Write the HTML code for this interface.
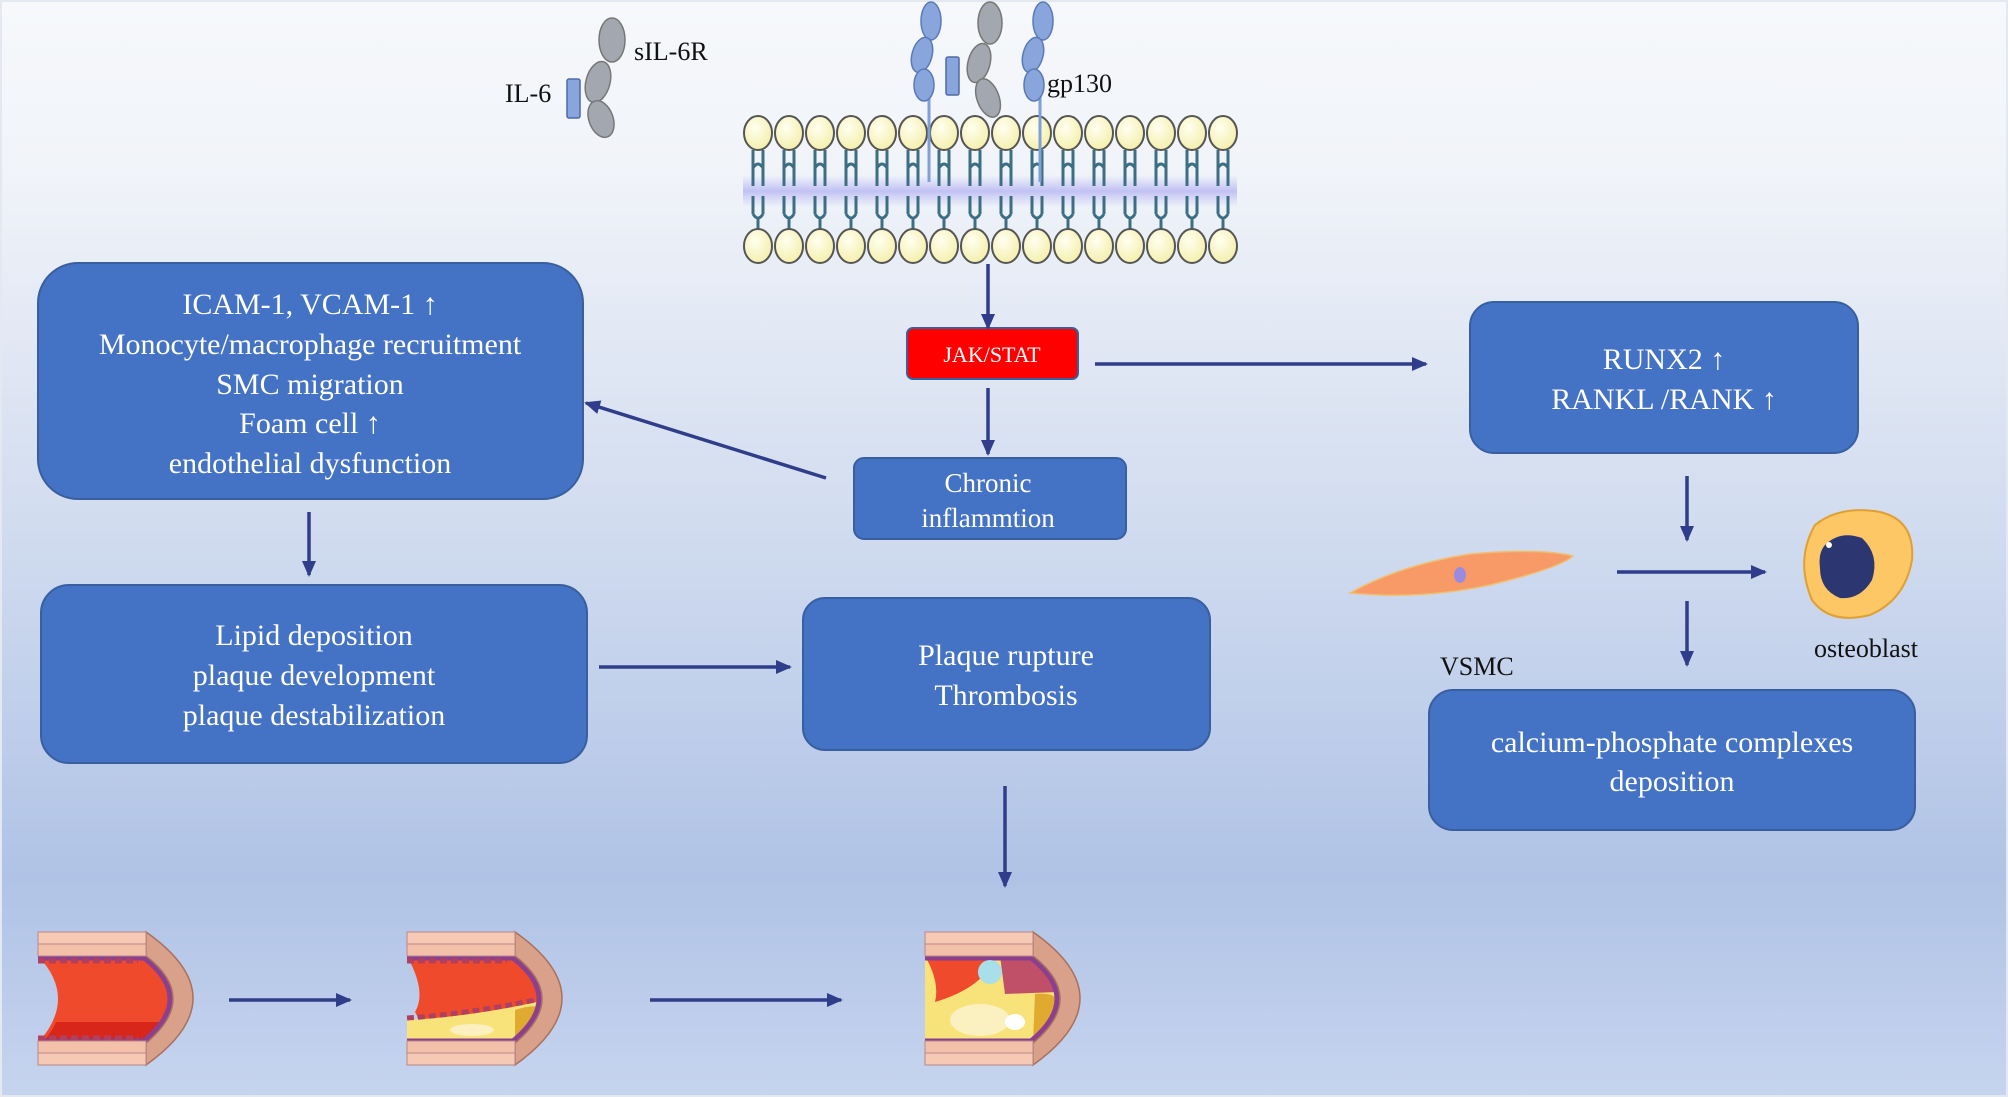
<!DOCTYPE html>
<html><head><meta charset="utf-8"><style>
html,body{margin:0;padding:0;}
svg{display:block;font-family:"Liberation Serif",serif;}
</style></head><body>
<svg width="2008" height="1097" viewBox="0 0 2008 1097" xmlns="http://www.w3.org/2000/svg">
<defs>
<linearGradient id="bg" x1="0" y1="0" x2="0" y2="1">
<stop offset="0" stop-color="#f6f8fb"/>
<stop offset="0.15" stop-color="#f1f4f9"/>
<stop offset="0.45" stop-color="#d4def0"/>
<stop offset="0.8" stop-color="#b0c3e6"/>
<stop offset="1" stop-color="#c6d4ee"/>
</linearGradient>
<linearGradient id="band" x1="0" y1="0" x2="0" y2="1">
<stop offset="0" stop-color="#c8c8f4" stop-opacity="0"/>
<stop offset="0.5" stop-color="#c0c0f4" stop-opacity="1"/>
<stop offset="1" stop-color="#c8c8f4" stop-opacity="0"/>
</linearGradient>
<radialGradient id="head" cx="0.4" cy="0.35" r="0.7">
<stop offset="0" stop-color="#fffff0"/>
<stop offset="1" stop-color="#f4eea8"/>
</radialGradient>
<marker id="ah" markerWidth="16" markerHeight="14" refX="14" refY="7" orient="auto" markerUnits="userSpaceOnUse">
<path d="M0,0 L16,7 L0,14 z" fill="#2f3d8a"/>
</marker>
<g id="lip">
<path d="M-5,150 L-5,168 M5,150 L5,168 M-5,168 L-5,186 M5,168 L5,186 M-5,168 Q0,160 5,168" stroke="#3c6e84" stroke-width="3" fill="none"/>
<path d="M-5,196 L-5,214 M5,196 L5,214 M-5,214 Q0,222 5,214 M0,218 L0,230" stroke="#3c6e84" stroke-width="3" fill="none"/>
<path d="M0,150 L0,140" stroke="#3c6e84" stroke-width="3"/>
<ellipse cx="0" cy="133" rx="14" ry="17" fill="url(#head)" stroke="#555" stroke-width="2"/>
<ellipse cx="0" cy="246" rx="14" ry="17" fill="url(#head)" stroke="#555" stroke-width="2"/>
</g>
<g id="wall">
<path d="M108,0 Q202,66 108,133 L108,111 Q162,66 108,24 z" fill="#d9a08a" stroke="#a8705e" stroke-width="1.5"/>
<rect x="0" y="0" width="108" height="12" fill="#f6c9b4" stroke="#b88" stroke-width="1"/>
<rect x="0" y="12" width="108" height="12" fill="#f3c0aa" stroke="#b88" stroke-width="1"/>
<rect x="0" y="109" width="108" height="12" fill="#f3c0aa" stroke="#b88" stroke-width="1"/>
<rect x="0" y="121" width="108" height="12" fill="#f6c9b4" stroke="#b88" stroke-width="1"/>
</g>
</defs>
<rect width="2008" height="1097" fill="url(#bg)"/>
<rect x="1" y="1" width="2006" height="1095" fill="none" stroke="#e4e8f0" stroke-width="2"/>

<!-- membrane -->
<rect x="743" y="175" width="494" height="32" fill="url(#band)"/>
<use href="#lip" x="758"/><use href="#lip" x="789"/><use href="#lip" x="820"/><use href="#lip" x="851"/>
<use href="#lip" x="882"/><use href="#lip" x="913"/><use href="#lip" x="944"/><use href="#lip" x="975"/>
<use href="#lip" x="1006"/><use href="#lip" x="1037"/><use href="#lip" x="1068"/><use href="#lip" x="1099"/>
<use href="#lip" x="1130"/><use href="#lip" x="1161"/><use href="#lip" x="1192"/><use href="#lip" x="1223"/>

<!-- receptors -->
<g stroke="#5b79b8" stroke-width="1.5">
<line x1="929" y1="95" x2="929" y2="182" stroke="#7f9fd8" stroke-width="3"/>
<line x1="1040" y1="95" x2="1040" y2="182" stroke="#7f9fd8" stroke-width="3"/>
<ellipse cx="931" cy="21" rx="10" ry="19" fill="#88a6dc"/>
<ellipse cx="922" cy="55" rx="10" ry="18" transform="rotate(15 922 55)" fill="#88a6dc"/>
<ellipse cx="924" cy="85" rx="10" ry="16" fill="#88a6dc"/>
<ellipse cx="1043" cy="21" rx="10" ry="19" fill="#88a6dc"/>
<ellipse cx="1033" cy="55" rx="10" ry="18" transform="rotate(15 1033 55)" fill="#88a6dc"/>
<ellipse cx="1034" cy="85" rx="10" ry="16" fill="#88a6dc"/>
</g>
<g stroke="#777" stroke-width="1.5" fill="#a3a8b0">
<ellipse cx="990" cy="23" rx="12" ry="21"/>
<ellipse cx="979" cy="63" rx="11" ry="20" transform="rotate(15 979 63)"/>
<ellipse cx="988" cy="98" rx="11" ry="20" transform="rotate(-20 988 98)"/>
<ellipse cx="612" cy="40" rx="13" ry="22"/>
<ellipse cx="598" cy="82" rx="12" ry="21" transform="rotate(15 598 82)"/>
<ellipse cx="601" cy="119" rx="12" ry="19" transform="rotate(-20 601 119)"/>
</g>
<rect x="946" y="57" width="13" height="38" rx="2" fill="#88a6dc" stroke="#4e6aa8" stroke-width="1.5"/>
<rect x="567" y="79" width="13" height="39" rx="2" fill="#88a6dc" stroke="#4e6aa8" stroke-width="1.5"/>
<text x="505" y="102" font-size="26" fill="#111">IL-6</text>
<text x="634" y="60" font-size="26" fill="#111">sIL-6R</text>
<text x="1047" y="92" font-size="26" fill="#111">gp130</text>

<!-- boxes -->
<g fill="#4472c4" stroke="#3a5f9f" stroke-width="2">
<rect x="38" y="263" width="545" height="236" rx="40"/>
<rect x="41" y="585" width="546" height="178" rx="28"/>
<rect x="803" y="598" width="407" height="152" rx="22"/>
<rect x="854" y="458" width="272" height="81" rx="10"/>
<rect x="1470" y="302" width="388" height="151" rx="24"/>
<rect x="1429" y="690" width="486" height="140" rx="24"/>
</g>
<rect x="907" y="328" width="171" height="51" rx="6" fill="#ff0000" stroke="#3a5f9f" stroke-width="2"/>
<g fill="#fff" font-size="30" text-anchor="middle">
<text x="310" y="314">ICAM-1, VCAM-1 ↑</text>
<text x="310" y="354">Monocyte/macrophage  recruitment</text>
<text x="310" y="394">SMC migration</text>
<text x="310" y="433">Foam cell  ↑</text>
<text x="310" y="473">endothelial  dysfunction</text>
<text x="314" y="645">Lipid deposition</text>
<text x="314" y="685">plaque development</text>
<text x="314" y="725">plaque destabilization</text>
<text x="1006" y="665">Plaque rupture</text>
<text x="1006" y="705">Thrombosis</text>
<text x="988" y="492" font-size="27">Chronic</text>
<text x="988" y="527" font-size="27">inflammtion</text>
<text x="1664" y="369">RUNX2 ↑</text>
<text x="1664" y="409">RANKL  /RANK  ↑</text>
<text x="1672" y="752">calcium-phosphate  complexes</text>
<text x="1672" y="791">deposition</text>
<text x="992" y="362" font-size="22">JAK/STAT</text>
</g>

<!-- arrows -->
<g stroke="#2f3d8a" stroke-width="3.5" fill="none" marker-end="url(#ah)">
<line x1="988" y1="264" x2="988" y2="328"/>
<line x1="988" y1="388" x2="988" y2="454"/>
<line x1="1095" y1="364" x2="1426" y2="364"/>
<line x1="826" y1="478" x2="586" y2="403"/>
<line x1="309" y1="512" x2="309" y2="575"/>
<line x1="599" y1="667" x2="790" y2="667"/>
<line x1="1005" y1="786" x2="1005" y2="886"/>
<line x1="1687" y1="476" x2="1687" y2="540"/>
<line x1="1617" y1="572" x2="1765" y2="572"/>
<line x1="1687" y1="601" x2="1687" y2="665"/>
<line x1="229" y1="1000" x2="350" y2="1000"/>
<line x1="650" y1="1000" x2="841" y2="1000"/>
</g>

<!-- VSMC -->
<path d="M1350,593 Q1400,565 1470,554 Q1540,548 1573,556 Q1560,568 1490,585 Q1420,600 1350,593 z" fill="#f79a67" stroke="#f0c070" stroke-width="1.5"/>
<ellipse cx="1460" cy="575" rx="6" ry="8" fill="#9a8ae0"/>
<text x="1440" y="675" font-size="26" fill="#111">VSMC</text>
<!-- osteoblast -->
<path d="M1815,525 Q1840,505 1880,512 Q1915,520 1912,560 Q1905,600 1870,615 Q1830,625 1812,600 Q1795,560 1815,525 z" fill="#fcc764" stroke="#e0a030" stroke-width="2"/>
<path d="M1825,545 Q1840,530 1862,538 Q1880,555 1872,580 Q1860,600 1840,598 Q1820,590 1820,568 Q1818,553 1825,545 z" fill="#2c3670"/>
<circle cx="1829" cy="545" r="3" fill="#fff"/>
<text x="1814" y="657" font-size="26" fill="#111">osteoblast</text>

<!-- artery 1 -->
<g transform="translate(38,932)">
<path d="M0,24 L108,24 Q162,66 108,111 L0,111 Q40,66 0,24 z" fill="#f04a2c"/>
<path d="M18,90 L128,90 Q120,102 108,111 L4,111 Q14,100 18,90 Z" fill="#d9261a"/>
<path d="M0,26 L106,26 Q158,66 106,109 L0,109" fill="none" stroke="#8b3f8e" stroke-width="5"/>
<path d="M0,29 L100,29 M0,106 L100,106" stroke="#b04060" stroke-width="5" stroke-dasharray="7,4"/>
<use href="#wall"/>
</g>
<!-- artery 2 -->
<g transform="translate(407,932)">
<path d="M0,24 L108,24 Q162,66 108,111 L0,111 Q18,95 8,80 Q20,60 0,24 z" fill="#f04a2c"/>
<path d="M0,88 Q60,85 130,70 Q140,90 120,105 L108,111 L0,111 z" fill="#f7e37a"/>
<path d="M108,78 Q140,68 135,85 Q125,102 108,111 z" fill="#e0aa30"/>
<ellipse cx="65" cy="98" rx="22" ry="6" fill="#fbf0c0"/>
<path d="M0,26 L106,26 Q158,66 106,109 L0,109" fill="none" stroke="#8b3f8e" stroke-width="5"/>
<path d="M0,29 L100,29 M0,86 Q60,82 128,68" fill="none" stroke="#b04060" stroke-width="5" stroke-dasharray="7,4"/>
<use href="#wall"/>
</g>
<!-- artery 3 -->
<g transform="translate(925,932)">
<path d="M0,24 L108,24 Q162,66 108,111 L0,111 z" fill="#f7e37a"/>
<path d="M0,24 L70,24 Q60,55 10,70 Q15,50 0,24 z" fill="#f04a2c"/>
<path d="M75,24 L115,24 Q140,45 132,60 L80,62 z" fill="#c05068"/>
<path d="M110,62 Q148,58 130,100 L108,111 z" fill="#e0aa30"/>
<ellipse cx="55" cy="88" rx="30" ry="16" fill="#fbf0c0"/>
<ellipse cx="90" cy="90" rx="10" ry="8" fill="#fff"/>
<path d="M0,26 L106,26 Q158,66 106,109 L0,109" fill="none" stroke="#8b3f8e" stroke-width="5"/>
<circle cx="65" cy="40" r="12" fill="#a8dfe8"/>
<use href="#wall"/>
</g>
</svg>
</body></html>
